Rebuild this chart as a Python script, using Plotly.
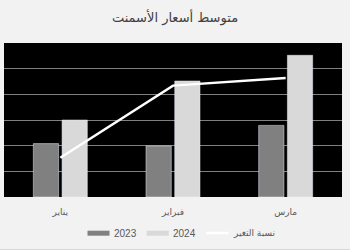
import plotly.graph_objects as go

months = ["يناير", "فبراير", "مارس"]
vals_2023 = [2.08, 1.99, 2.79]
vals_2024 = [3.0, 4.52, 5.52]
change = [1.53, 4.34, 4.64]
series_names = ["2023", "2024", "نسبة التغير"]
colors = ["#808080", "#d9d9d9", "white"]

fig = go.Figure()
fig.add_trace(go.Bar(x=months, y=vals_2023, name=series_names[0], marker_color=colors[0]))
fig.add_trace(go.Bar(x=months, y=vals_2024, name=series_names[1], marker_color=colors[1]))
fig.add_trace(go.Scatter(x=months, y=change, name=series_names[2], mode="lines",
                         line=dict(color=colors[2], width=2.5), yaxis="y2"))

# plot area: x 4..342 px, y 43..197 px
def px(x):
    return (x - 4) / 338.0

def py(y):
    return (197 - y) / 154.0

fig.update_layout(
    width=350, height=250,
    margin=dict(l=4, r=8, t=43, b=53),
    paper_bgcolor="#f2f2f2", plot_bgcolor="black",
    font=dict(family="DejaVu Sans", color="#595959"),
    title=dict(text="متوسط أسعار الأسمنت", x=0.5, xanchor="center", y=0.93, yanchor="middle",
               font=dict(size=13, color="#404040")),
    barmode="group", bargap=0.49, bargroupgap=0.12,
    xaxis=dict(showgrid=False, tickfont=dict(size=9, color="#595959"), ticks="",
               showline=False, ticklabelstandoff=8),
    yaxis=dict(range=[0, 6], dtick=1, showticklabels=False, gridcolor="#808080", gridwidth=1,
               zeroline=False),
    yaxis2=dict(range=[0, 6], overlaying="y", visible=False),
    showlegend=False,
)

# custom legend (wide swatches as in reference)
ly = py(233)
fig.add_shape(type="rect", xref="paper", yref="paper", x0=px(87.5), x1=px(109.5),
              y0=py(230.7), y1=py(235.7), fillcolor=colors[0], line=dict(width=0))
fig.add_annotation(xref="paper", yref="paper", x=px(111.5), y=ly, text=series_names[0],
                   showarrow=False, xanchor="left", yanchor="middle",
                   font=dict(family="Liberation Sans", size=10, color="#595959"))
fig.add_shape(type="rect", xref="paper", yref="paper", x0=px(146.7), x1=px(168.7),
              y0=py(230.7), y1=py(235.7), fillcolor=colors[1], line=dict(width=0))
fig.add_annotation(xref="paper", yref="paper", x=px(171), y=ly, text=series_names[1],
                   showarrow=False, xanchor="left", yanchor="middle",
                   font=dict(family="Liberation Sans", size=10, color="#595959"))
fig.add_shape(type="line", xref="paper", yref="paper", x0=px(206), x1=px(228.5),
              y0=ly, y1=ly, line=dict(color=colors[2], width=2.5))
fig.add_annotation(xref="paper", yref="paper", x=px(230.5), y=ly, text=series_names[2],
                   showarrow=False, xanchor="left", yanchor="middle",
                   font=dict(family="DejaVu Sans", size=9, color="#595959"))

# outer chart border bottom edge
fig.add_shape(type="line", xref="paper", yref="paper", x0=px(0), x1=px(350),
              y0=py(249.5), y1=py(249.5), line=dict(color="#d9d9d9", width=1))
fig.write_html("out.html")
